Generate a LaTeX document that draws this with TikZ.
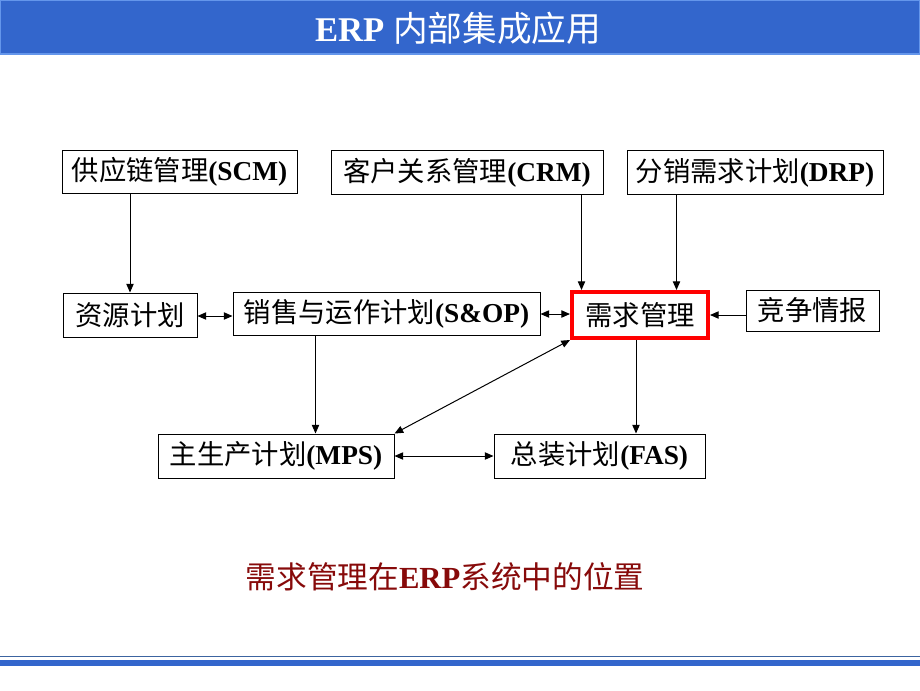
\documentclass[tikz,border=0pt]{standalone}
\usepackage{fontspec}
\setmainfont{Liberation Serif}
\newfontfamily\cjk{Noto Sans CJK SC}
\usetikzlibrary{arrows.meta,calc}
\definecolor{barblue}{RGB}{51,102,204}
\definecolor{barline}{RGB}{100,150,235}
\definecolor{thinline}{RGB}{60,100,160}
\definecolor{capred}{RGB}{135,10,10}
\tikzset{
  box/.style={draw=black,line width=0.75pt,inner sep=0pt,font=\fontsize{20.5}{24}\selectfont},
  tip/.tip={Triangle[length=6.5pt,width=5.5pt]},
  conn/.style={line width=0.75pt,-tip},
  dconn/.style={line width=0.75pt,tip-tip},
}
\newcommand{\zh}[1]{{\cjk #1}}
\begin{document}
\begin{tikzpicture}[x=0.75pt,y=-0.75pt]
\useasboundingbox (0,0) rectangle (920,690);
\fill[white] (0,0) rectangle (920,690);
% title bar
\filldraw[fill=barblue,draw=barline,line width=1pt] (0.5,0.5) rectangle (919.5,54);
\node[text=white,font=\fontsize{26}{30}\selectfont] (title) at (458,28) {\textbf{ERP} \zh{内部集成应用}};
% bottom lines
\fill[thinline] (0,655.5) rectangle (920,657);
\fill[barblue] (0,660) rectangle (920,666);
% nodes
\node[box,minimum width=235*0.75pt,minimum height=43*0.75pt] (scm) at (179.5,171.5) {\zh{供应链管理}\textbf{(SCM)}};
\node[box,minimum width=272*0.75pt,minimum height=44*0.75pt] (crm) at (467,172.5) {\zh{客户关系管理}\textbf{(CRM)}};
\node[box,minimum width=256*0.75pt,minimum height=44*0.75pt] (drp) at (755,172.5) {\zh{分销需求计划}\textbf{(DRP)}};
\node[box,minimum width=134*0.75pt,minimum height=44*0.75pt] (rp) at (130,315) {\zh{资源计划}};
\node[box,minimum width=307*0.75pt,minimum height=43*0.75pt] (sop) at (386.5,313.5) {\zh{销售与运作计划}\textbf{(S\&OP)}};
\node[box,draw=red,line width=3pt,minimum width=136*0.75pt,minimum height=46*0.75pt] (dm) at (640,315) {\zh{需求管理}};
\node[box,minimum width=133*0.75pt,minimum height=41*0.75pt] (jz) at (812.5,310.5) {\zh{竞争情报}};
\node[box,minimum width=236*0.75pt,minimum height=44*0.75pt] (mps) at (276,456) {\zh{主生产计划}\textbf{(MPS)}};
\node[box,minimum width=211*0.75pt,minimum height=44*0.75pt] (fas) at (599.5,456) {\zh{总装计划}\textbf{(FAS)}};
% caption
\node[text=capred,font=\fontsize{23}{27}\selectfont] (cap) at (445,577) {\zh{需求管理在}\textbf{ERP}\zh{系统中的位置}};
% connector anchor coordinates
\coordinate (crmout) at ($(crm.south east)+(-22,0)$);
\coordinate (drpout) at ($(drp.south west)+(50,0)$);
\coordinate (sopout) at ($(sop.south west)+(83,0)$);
\coordinate (dmout) at ($(dm.south)+(-4,0)$);
\coordinate (yrow) at (0,316);
\coordinate (yrow2) at (0,314);
% connectors
\draw[conn] (rp.north |- scm.south) -- (rp.north);
\draw[conn] (crmout) -- (crmout |- dm.north);
\draw[conn] (drpout) -- (drpout |- dm.north);
\draw[dconn] (rp.east |- yrow) -- (sop.west |- yrow);
\draw[dconn] (sop.east |- yrow2) -- (dm.west |- yrow2);
\draw[conn] (jz.west |- dm.east) -- (dm.east);
\draw[conn] (sopout) -- (sopout |- mps.north);
\draw[conn] (dmout) -- (dmout |- fas.north);
\draw[dconn] (dm.south west) -- (mps.north east);
\draw[dconn] (mps.east) -- (fas.west);
\end{tikzpicture}
\end{document}
